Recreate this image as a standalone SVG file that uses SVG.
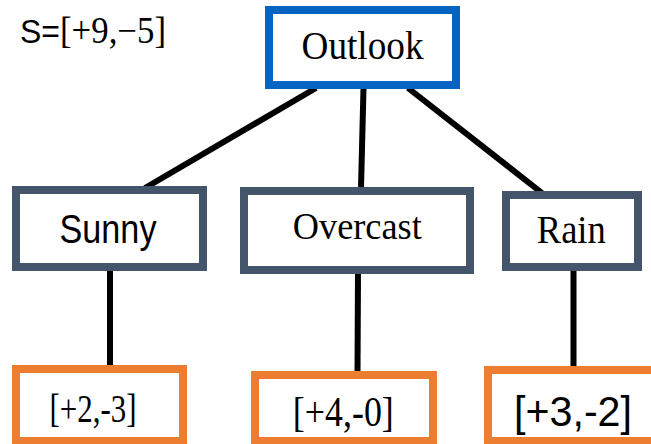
<svg xmlns="http://www.w3.org/2000/svg" width="651" height="444" viewBox="0 0 651 444">
  <style>
    .box { fill: #ffffff; stroke-width: 8; }
    .root { stroke: #0563C1; }
    .branch { stroke: #44546A; }
    .leaf { stroke: #ED7D31; }
    .edge { stroke: #000000; stroke-width: 6; fill: none; }
    .serif { font-family: "Liberation Serif", "Times New Roman", serif; fill: #000000; }
    .sans { font-family: "Liberation Sans", Arial, sans-serif; fill: #000000; }
  </style>

  <rect width="651" height="444" fill="#ffffff"/>

  <!-- sample counts of the whole set -->
  <text x="20" y="43" textLength="146" lengthAdjust="spacingAndGlyphs"><tspan class="sans" font-size="34">S=</tspan><tspan class="serif" font-size="37">[+9,−5]</tspan></text>

  <!-- connectors -->
  <g id="connectors">
    <line class="edge" x1="316" y1="88" x2="145" y2="188"/>
    <line class="edge" x1="363.5" y1="88" x2="361" y2="188"/>
    <line class="edge" x1="408" y1="88" x2="542" y2="193"/>
    <line class="edge" x1="110" y1="268" x2="110" y2="366"/>
    <line class="edge" x1="358" y1="272" x2="357.5" y2="373"/>
    <line class="edge" x1="573.5" y1="268" x2="573.5" y2="368"/>
  </g>

  <!-- root -->
  <g id="outlook">
    <rect class="box root" x="269" y="10" width="187" height="75"/>
    <text class="serif" x="362.5" y="58.5" font-size="40" text-anchor="middle" textLength="122" lengthAdjust="spacingAndGlyphs">Outlook</text>
  </g>

  <!-- attribute values -->
  <g id="sunny">
    <rect class="box branch" x="16" y="190" width="187" height="77"/>
    <text class="sans" x="108" y="242.5" font-size="41" text-anchor="middle" textLength="97" lengthAdjust="spacingAndGlyphs">Sunny</text>
  </g>
  <g id="overcast">
    <rect class="box branch" x="244" y="191" width="226" height="79"/>
    <text class="serif" x="357.3" y="239.3" font-size="38" text-anchor="middle" textLength="129" lengthAdjust="spacingAndGlyphs">Overcast</text>
  </g>
  <g id="rain">
    <rect class="box branch" x="506" y="195" width="132" height="72"/>
    <text class="serif" x="571.3" y="242.7" font-size="39" text-anchor="middle" textLength="69" lengthAdjust="spacingAndGlyphs">Rain</text>
  </g>

  <!-- leaf counts -->
  <g id="leaf-sunny">
    <rect class="box leaf" x="16" y="369" width="167" height="72"/>
    <text class="serif" x="93" y="422.3" font-size="39" text-anchor="middle" textLength="87" lengthAdjust="spacingAndGlyphs">[+2,-3]</text>
  </g>
  <g id="leaf-overcast">
    <rect class="box leaf" x="255" y="375" width="178" height="66"/>
    <text class="serif" x="343.3" y="425.7" font-size="42" text-anchor="middle" textLength="101" lengthAdjust="spacingAndGlyphs">[+4,-0]</text>
  </g>
  <g id="leaf-rain">
    <rect class="box leaf" x="488" y="370" width="175" height="71"/>
    <text class="sans" x="573" y="425.7" font-size="43" text-anchor="middle" textLength="118" lengthAdjust="spacingAndGlyphs">[+3,-2]</text>
  </g>
</svg>
